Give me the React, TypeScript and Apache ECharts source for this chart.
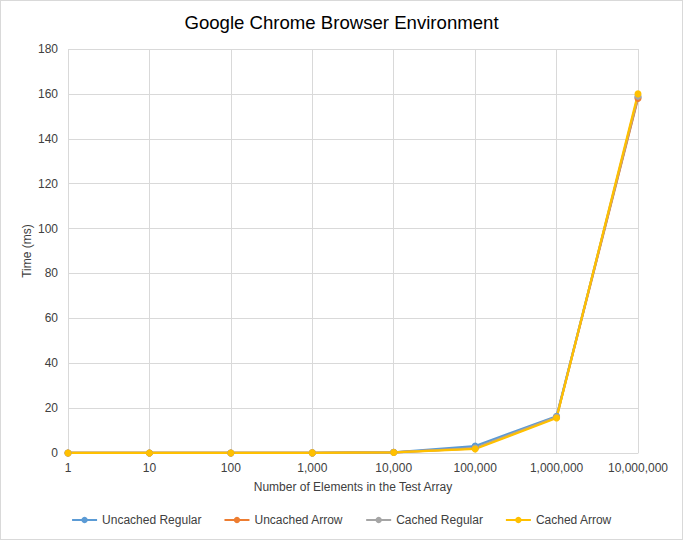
import React, { useEffect, useRef } from 'react';
import * as echarts from 'echarts';

// 数据
const categories = ['1', '10', '100', '1,000', '10,000', '100,000', '1,000,000', '10,000,000'];
const uncachedRegular = [0.01, 0.01, 0.02, 0.05, 0.3, 3.1, 16.4, 158.5];
const uncachedArrow = [0.01, 0.01, 0.02, 0.05, 0.3, 2.1, 15.9, 158.0];
const cachedRegular = [0.01, 0.01, 0.02, 0.05, 0.3, 2.2, 16.0, 159.0];
const cachedArrow = [0.01, 0.01, 0.02, 0.05, 0.25, 1.8, 15.6, 160.0];

const seriesNames = ['Uncached Regular', 'Uncached Arrow', 'Cached Regular', 'Cached Arrow'];
const seriesColors = ['#5B9BD5', '#ED7D31', '#A5A5A5', '#FFC000'];
const seriesData = [uncachedRegular, uncachedArrow, cachedRegular, cachedArrow];

const FONT = '"Liberation Sans", Arial, sans-serif';
const TEXT = '#404040';

const App = () => {
  const chartRef = useRef<HTMLDivElement>(null);

  useEffect(() => {
    document.body.style.margin = '0';
    if (!chartRef.current) return;
    const chart = echarts.init(chartRef.current, undefined, { renderer: 'svg' });
    chart.setOption({
      animation: false,
      textStyle: { fontFamily: FONT },
      title: {
        text: 'Google Chrome Browser Environment',
        left: 'center',
        top: 7,
        textStyle: { fontSize: 18.6, fontWeight: 'normal', color: '#000', fontFamily: FONT },
      },
      legend: {
        data: seriesNames,
        bottom: 8,
        left: 'center',
        itemWidth: 25,
        itemHeight: 8,
        itemGap: 22,
        textStyle: { fontSize: 12, color: TEXT, fontFamily: FONT },
      },
      grid: { left: 67, right: 44, top: 48, bottom: 86, containLabel: false },
      xAxis: {
        type: 'category',
        data: categories,
        boundaryGap: false,
        name: 'Number of Elements in the Test Array',
        nameLocation: 'middle',
        nameGap: 28,
        nameMoveOverlap: false,
        nameTextStyle: { fontSize: 12, color: TEXT },
        axisLine: { lineStyle: { color: '#D9D9D9' } },
        axisTick: { show: false },
        axisLabel: { fontSize: 12, color: TEXT, margin: 9 },
        splitLine: { show: true, lineStyle: { color: '#D9D9D9', width: 1 } },
      },
      yAxis: {
        type: 'value',
        min: 0,
        max: 180,
        interval: 20,
        name: 'Time (ms)',
        nameLocation: 'middle',
        nameGap: 35,
        nameMoveOverlap: false,
        nameTextStyle: { fontSize: 12, color: TEXT },
        axisLine: { show: false },
        axisTick: { show: false },
        axisLabel: { fontSize: 12, color: TEXT, margin: 10 },
        splitLine: { lineStyle: { color: '#D9D9D9', width: 1 } },
      },
      series: seriesData.map((d, i) => ({
        name: seriesNames[i],
        type: 'line',
        data: d,
        symbol: 'circle',
        symbolSize: 7,
        lineStyle: { color: seriesColors[i], width: 2.25 },
        itemStyle: { color: seriesColors[i] },
      })),
    });
    return () => {
      chart.dispose();
    };
  }, []);

  return (
    <div
      ref={chartRef}
      style={{
        width: 683,
        height: 540,
        boxSizing: 'border-box',
        border: '1px solid #D9D9D9',
        background: '#fff',
      }}
    />
  );
};

export default App;
